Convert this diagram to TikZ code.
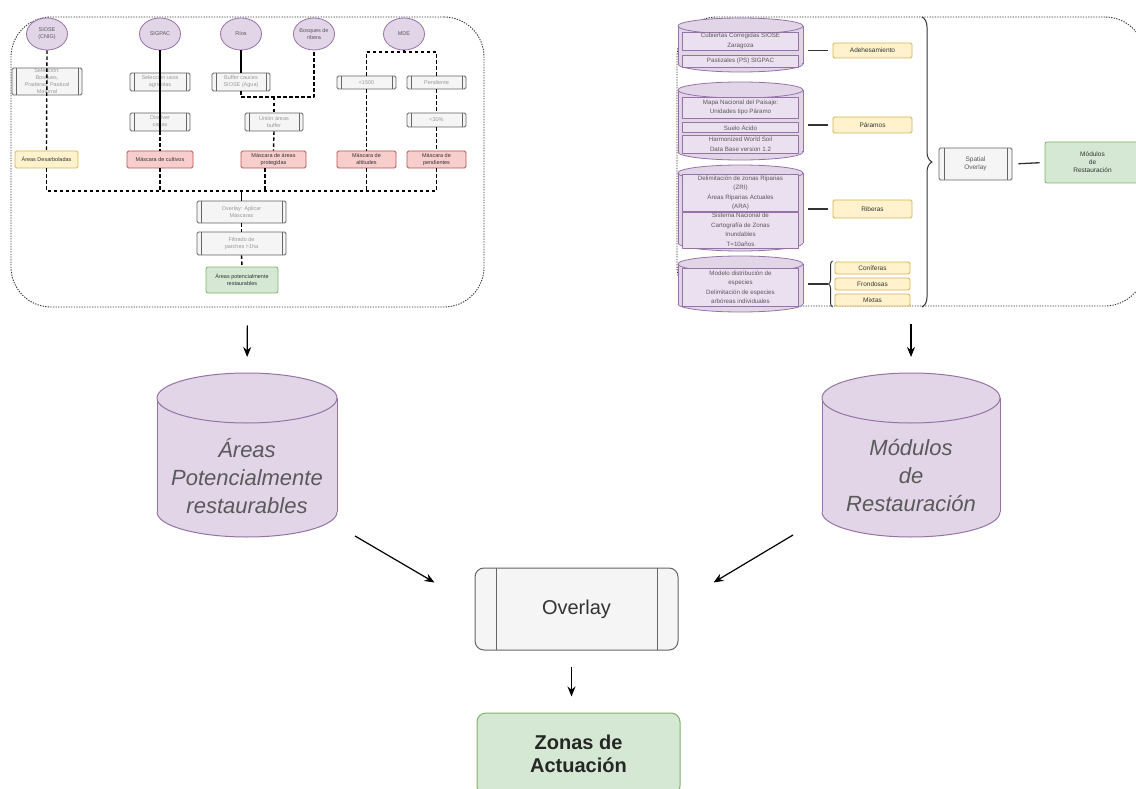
\documentclass[tikz,border=0pt]{standalone}
\usepackage{fontspec}
\setmainfont{Liberation Sans}
\usetikzlibrary{arrows.meta,decorations.pathreplacing,shapes.geometric,calc}

\definecolor{purfill}{HTML}{E1D5E7}
\definecolor{purline}{HTML}{9673A6}
\definecolor{purrow}{HTML}{EAE0F0}
\definecolor{grayfill}{HTML}{F5F5F5}
\definecolor{grayline}{HTML}{666666}
\definecolor{yelfill}{HTML}{FFF2CC}
\definecolor{yelline}{HTML}{D6B656}
\definecolor{redfill}{HTML}{F8CECC}
\definecolor{redline}{HTML}{B85450}
\definecolor{grnfill}{HTML}{D5E8D4}
\definecolor{grnline}{HTML}{82B366}
\definecolor{inkdark}{HTML}{333333}
\definecolor{inkmid}{HTML}{5A5A5A}
\definecolor{inklight}{HTML}{9A9A9A}

% database cylinder: x1, y1, x2, y2, radius of the end ellipses, line width
\newcommand\dbcyl[6]{%
  \fill[purfill] (#1,#2+#5) rectangle (#3,#4-#5);
  \fill[purfill] ({(#1+#3)/2},#4-#5) ellipse[x radius={(#3-#1)/2}, y radius=#5];
  \begin{scope}
    \clip (#1-3,#4-#5) rectangle (#3+3,#4+3);
    \draw[purline, line width=#6] ({(#1+#3)/2},#4-#5) ellipse[x radius={(#3-#1)/2}, y radius=#5];
  \end{scope}
  \draw[purline, line width=#6] (#1,#2+#5) -- (#1,#4-#5) (#3,#2+#5) -- (#3,#4-#5);
  \filldraw[fill=purfill, draw=purline, line width=#6] ({(#1+#3)/2},#2+#5) ellipse[x radius={(#3-#1)/2}, y radius=#5];
}

\tikzset{
  panel/.style={draw=inkdark, line width=0.9pt, dash pattern=on 1.3pt off 1.3pt, rounded corners=40pt, inner sep=0pt},
  smalltxt/.style={font=\fontsize{5.5}{7}\selectfont, align=center, inner sep=0pt},
  srccirc/.style={smalltxt, ellipse, draw=purline, fill=purfill, line width=0.8pt, minimum width=41pt, minimum height=32pt, text=inkmid},
  procbox/.style={smalltxt, rectangle, rounded corners=1.5pt, draw=grayline, fill=grayfill, line width=0.8pt, text=inklight,
    path picture={\draw[grayline, line width=0.8pt]
      ([xshift=#1]path picture bounding box.north west) -- ([xshift=#1]path picture bounding box.south west)
      ([xshift=-#1]path picture bounding box.north east) -- ([xshift=-#1]path picture bounding box.south east);}},
  procbox/.default=4pt,
  yelbox/.style={smalltxt, rectangle, rounded corners=1.5pt, draw=yelline, fill=yelfill, line width=0.8pt, text=inkdark},
  redbox/.style={smalltxt, rectangle, rounded corners=1.5pt, draw=redline, fill=redfill, line width=0.8pt, text=inkdark},
  grnbox/.style={smalltxt, rectangle, rounded corners=2pt, draw=grnline, fill=grnfill, line width=0.8pt, text=inkdark},
  flowdash/.style={black, line width=1.4pt, dash pattern=on 3.5pt off 2.5pt},
  flowsolid/.style={black, line width=1.4pt},
  dbrow/.style={rectangle, draw=purline, fill=purrow, line width=0.6pt, font=\fontsize{6.2}{9.5}\selectfont, align=center, inner sep=0pt, text=inkmid, minimum width=116pt},
  catbox/.style={rectangle, rounded corners=1.5pt, draw=yelline, fill=yelfill, line width=0.8pt, font=\fontsize{6.5}{8}\selectfont, text=inkdark, inner sep=0pt},
  stub/.style={inkdark, line width=1.3pt},
  arrow/.style={black, line width=1.2pt, -{Stealth[length=10pt,width=8pt]}},
  bigtxt/.style={font=\fontsize{22}{28}\selectfont\itshape, text=inkmid, align=center, inner sep=0pt},
  area/.style={inner sep=0pt, outer sep=0pt}
}

\begin{document}
\begin{tikzpicture}[x=1pt, y=-1pt, line join=round]
\fill[white] (0,0) rectangle (1136,789);
\useasboundingbox (0,0) rectangle (1136,789);

% ---------- left workflow: potentially restorable areas ----------
\node[panel, minimum width=473pt, minimum height=290pt] (lpanel) at (247.5,162) {};

\node[srccirc] (c1) at (47,34) {SIOSE\\(CNIG)};
\node[srccirc] (c2) at (160,34) {SIGPAC};
\node[srccirc] (c3) at (241,34) {Ríos};
\node[srccirc] (c4) at (314,34) {Bosques de\\ribera};
\node[srccirc] (c5) at (404,34) {MDE};

\node[procbox, minimum width=70pt, minimum height=27pt] (g1) at (47,81.5) {Selección:\\Bosques,\\Praderas, Pastizal\\Matorral};
\node[procbox, minimum width=60pt, minimum height=18pt] (g2) at (160,82) {Selección usos\\agrícolas};
\node[procbox, minimum width=58pt, minimum height=18pt] (g3) at (241,82) {Buffer cauces\\SIOSE (Agua)};
\node[procbox, minimum width=60pt, minimum height=18pt] (g4) at (160,122) {Disolver\\capas};
\node[procbox, minimum width=58pt, minimum height=18pt] (g5) at (274,122) {Unión áreas\\buffer};
\node[procbox, minimum width=59pt, minimum height=13pt] (g6) at (366.5,82.5) {<1500};
\node[procbox, minimum width=59pt, minimum height=13pt] (g7) at (436.5,82.5) {Pendiente};
\node[procbox, minimum width=59pt, minimum height=14pt] (g8) at (436.5,120) {<30\%};

\node[yelbox, minimum width=63pt, minimum height=17pt] (y1) at (46.5,159.5) {Áreas Desarboladas};
\node[redbox, minimum width=66pt, minimum height=17pt] (r1) at (160,159.5) {Máscara de cultivos};
\node[redbox, minimum width=65pt, minimum height=17pt] (r2) at (273.5,159.5) {Máscara de áreas\\protegidas};
\node[redbox, minimum width=59pt, minimum height=17pt] (r3) at (366.5,159.5) {Máscara de\\altitudes};
\node[redbox, minimum width=59pt, minimum height=17pt] (r4) at (436.5,159.5) {Máscara de\\pendientes};

\node[procbox, minimum width=89pt, minimum height=22pt] (ov1) at (241.5,212) {Overlay: Aplicar\\Máscaras};
\node[procbox, minimum width=89pt, minimum height=23pt] (ov2) at (241.5,243.5) {Filtrado de\\parches >1ha};
\node[grnbox, minimum width=72pt, minimum height=26pt] (ga) at (242,280) {Áreas potencialmente\\restaurables};

% junctions of the dashed flow lines
\coordinate (jA) at (241,97);
\coordinate (jC) at (274,97);
\coordinate (jB) at (314,97);
\coordinate (kA) at (366.5,52);
\coordinate (kB) at (436.5,52);
\coordinate (mL) at (46.5,191);
\coordinate (mR) at (436.5,191);
\coordinate (r2d) at ($(r2.south)+(-8.5,0)$);

\draw[flowdash] (c1.south) -- (y1.north);
\draw[flowsolid] (c2.south) -- (g4.south);
\draw[flowdash] (g4.south) -- (r1.north);
\draw[flowsolid] (c3.south) -- (g3.north);
\draw[flowdash] (g3.south) -- (jA) -- (jB) -- (c4.south);
\draw[flowdash] (jC) -- (g5.north);
\draw[flowdash] (g5.south) -- (r2.north);
\draw[flowdash] (c5.south) -- (c5.south |- kA);
\draw[flowdash] (g6.north) -- (kA) -- (kB) -- (g7.north);
\draw[flowdash] (g6.south) -- (r3.north);
\draw[flowdash] (g7.south) -- (g8.north);
\draw[flowdash] (g8.south) -- (r4.north);
\draw[flowdash] (y1.south) -- (mL) -- (mR) -- (r4.south);
\draw[flowdash] (r1.south) -- (r1.south |- mL);
\draw[flowdash] (r2d) -- (r2d |- mL);
\draw[flowdash] (r3.south) -- (r3.south |- mL);
\draw[flowsolid] (mL -| ov1.north) -- (ov1.north);
\draw[flowdash] (ov1.south) -- (ov2.north);
\draw[flowdash] (ov2.south) -- (ga.north);

% ---------- right workflow: restoration modules ----------
\node[panel, minimum width=468pt, minimum height=289pt] (rpanel) at (911,161.5) {};

\dbcyl{678}{18}{803}{72}{8}{0.8pt}
\node[area, minimum width=125pt, minimum height=54pt] (cy1) at (740.5,45) {};
\node[dbrow, minimum height=18pt] (cy1a) at (740.5,41) {Cubiertas Corregidas SIOSE\\Zaragoza};
\node[dbrow, minimum height=12pt] (cy1b) at (740.5,61) {Pastizales (PS) SIGPAC};

\dbcyl{678}{82}{803}{160}{8}{0.8pt}
\node[area, minimum width=125pt, minimum height=78pt] (cy2) at (740.5,121) {};
\node[dbrow, minimum height=21pt] (cy2a) at (740.5,107.5) {Mapa Nacional del Paisaje:\\Unidades tipo Páramo};
\node[dbrow, minimum height=10pt] (cy2b) at (740.5,127.5) {Suelo Ácido};
\node[dbrow, minimum height=18pt] (cy2c) at (740.5,144.5) {Harmonized World Soil\\Data Base version 1.2};

\dbcyl{678}{165}{803}{251}{8}{0.8pt}
\node[area, minimum width=125pt, minimum height=86pt] (cy3) at (740.5,208) {};
\node[dbrow, minimum height=37pt] (cy3a) at (740.5,193) {Delimitación de zonas Riparias\\(ZRI)\\Áreas Riparias Actuales\\(ARA)};
\node[dbrow, minimum height=36pt] (cy3b) at (740.5,230) {Sistema Nacional de\\Cartografía de Zonas\\Inundables\\T=10años};

\dbcyl{678}{256}{803}{312}{8}{0.8pt}
\node[area, minimum width=125pt, minimum height=56pt] (cy4) at (740.5,284) {};
\node[dbrow, minimum height=38pt] (cy4a) at (740.5,287) {Modelo distribución de\\especies\\Delimitación de especies\\arbóreas individuales};

\node[catbox, minimum width=79pt, minimum height=15pt] (adeh) at (872.5,50.5) {Adehesamiento};
\node[catbox, minimum width=79pt, minimum height=16pt] (param) at (872.5,125) {Páramos};
\node[catbox, minimum width=79pt, minimum height=18pt] (riber) at (872.5,209) {Riberas};
\node[catbox, minimum width=75pt, minimum height=12pt] (conif) at (872.5,268) {Coníferas};
\node[catbox, minimum width=75pt, minimum height=12pt] (frond) at (872.5,284) {Frondosas};
\node[catbox, minimum width=75pt, minimum height=12pt] (mixt) at (872.5,300) {Mixtas};

\draw[stub, shorten <=5pt, shorten >=5pt] (adeh.west -| cy1.east) -- (adeh.west);
\draw[stub, shorten <=5pt, shorten >=5pt] (param.west -| cy2.east) -- (param.west);
\draw[stub, shorten <=5pt, shorten >=5pt] (riber.west -| cy3.east) -- (riber.west);

\coordinate (brs) at (828,284);
\draw[inkdark, line width=1pt, decorate, decoration={brace, amplitude=4pt}] (832.5,307) -- (832.5,261);
\draw[stub, shorten <=5pt] (brs -| cy4.east) -- (brs);

\draw[inkdark, line width=1pt, decorate, decoration={brace, amplitude=10pt}] (922,17) -- (922,307);

\node[procbox=5pt, minimum width=73pt, minimum height=32pt, font=\fontsize{6.5}{8}\selectfont, text=inkmid] (spov) at (975.5,164) {Spatial\\Overlay};
\node[grnbox, minimum width=95pt, minimum height=41pt, font=\fontsize{6.5}{8}\selectfont] (modr) at (1092.5,162.5) {Módulos\\de\\Restauración};
\draw[stub, shorten <=6pt, shorten >=5pt] (spov.east) -- (modr.west);

% ---------- combination ----------
\dbcyl{157}{373}{337}{537}{25}{1pt}
\node[area, minimum width=180pt, minimum height=164pt] (cylL) at (247,455) {};
\node[bigtxt] (cylLtxt) at (247,476) {Áreas\\Potencialmente\\restaurables};

\dbcyl{822}{373}{1000}{537}{25}{1pt}
\node[area, minimum width=178pt, minimum height=164pt] (cylR) at (911,455) {};
\node[bigtxt] (cylRtxt) at (911,476) {Módulos\\de\\Restauración};

\node[rectangle, rounded corners=9pt, draw=grayline, fill=grayfill, line width=1pt, minimum width=203pt, minimum height=82pt,
  font=\fontsize{20}{24}\selectfont, text=inkdark, inner sep=0pt,
  path picture={\draw[grayline, line width=1pt]
    ([xshift=21pt]path picture bounding box.north west) -- ([xshift=21pt]path picture bounding box.south west)
    ([xshift=-21pt]path picture bounding box.north east) -- ([xshift=-21pt]path picture bounding box.south east);}]
  (ovl) at (576.5,609) {Overlay};

\node[rectangle, rounded corners=9pt, draw=grnline, fill=grnfill, line width=1pt, minimum width=203pt, minimum height=82pt,
  font=\fontsize{20}{23}\selectfont\bfseries, text=black!85, align=center, inner sep=0pt]
  (zonas) at (578.5,754) {Zonas de\\Actuación};

\draw[arrow, shorten <=18pt, shorten >=16pt] (lpanel.south) -- (cylL.north);
\draw[arrow, shorten <=18pt, shorten >=16pt] (rpanel.south) -- (cylR.north);
\draw[arrow] ($(cylL.south east)+(18,-1)$) -- ($(ovl.north west)+(-40,15)$);
\draw[arrow] ($(cylR.south west)+(-29,-2)$) -- ($(ovl.north east)+(35,15)$);
\draw[arrow] ($(ovl.south)+(-5,16)$) -- ($(zonas.north)+(-7,-16)$);
\end{tikzpicture}
\end{document}
